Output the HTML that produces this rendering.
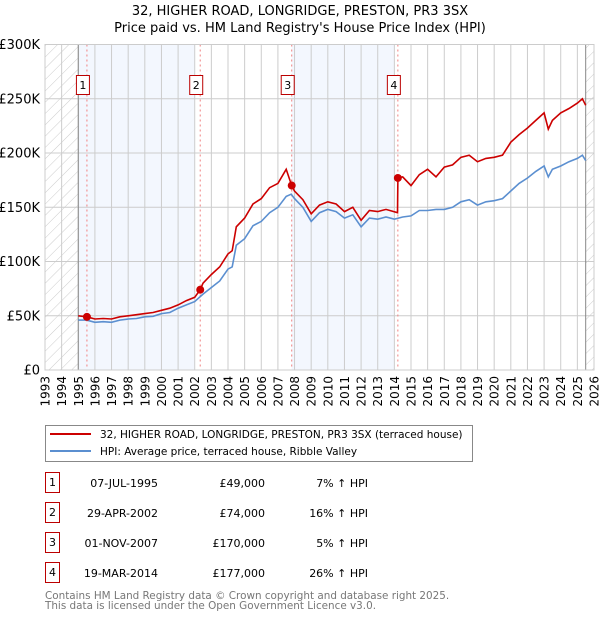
<!DOCTYPE html>
<html><head><meta charset="utf-8"><style>
body{margin:0;background:#fff;font-family:"DejaVu Sans","Liberation Sans",sans-serif;}
svg text{font-family:"DejaVu Sans","Liberation Sans",sans-serif;}
</style></head><body>
<svg id="c" width="600" height="620" xmlns="http://www.w3.org/2000/svg">
<defs><pattern id="h" width="8" height="8" patternUnits="userSpaceOnUse" patternTransform="rotate(45)"><line x1="0" y1="0" x2="0" y2="8" stroke="#ccc" stroke-width="1"/></pattern></defs>
<text x="300" y="15" text-anchor="middle" font-size="13">32, HIGHER ROAD, LONGRIDGE, PRESTON, PR3 3SX</text>
<text x="300" y="32" text-anchor="middle" font-size="13">Price paid vs. HM Land Registry's House Price Index (HPI)</text>
<g id="plot"></g>
<g>
<rect x="45.5" y="425.5" width="427" height="36" fill="#fff" stroke="#888"/>
<line x1="50" y1="434" x2="91" y2="434" stroke="#cc0000" stroke-width="2"/>
<text x="100" y="438" font-size="10.5">32, HIGHER ROAD, LONGRIDGE, PRESTON, PR3 3SX (terraced house)</text>
<line x1="50" y1="451" x2="91" y2="451" stroke="#5b8fd0" stroke-width="2"/>
<text x="100" y="455" font-size="10.5">HPI: Average price, terraced house, Ribble Valley</text>
</g>
<g id="table" font-size="11"></g>
<text x="45" y="599" font-size="10.4" fill="#777">Contains HM Land Registry data © Crown copyright and database right 2025.</text>
<text x="45" y="609" font-size="10.4" fill="#777">This data is licensed under the Open Government Licence v3.0.</text>
</svg>
<script>
const hpiYears=[1995,1995.5,1996,1996.5,1997,1997.5,1998,1998.5,1999,1999.5,2000,2000.5,2001,2001.5,2002,2002.5,2003,2003.5,2004,2004.25,2004.5,2005,2005.5,2006,2006.5,2007,2007.5,2007.8,2008,2008.5,2009,2009.5,2010,2010.5,2011,2011.5,2012,2012.5,2013,2013.5,2014,2014.5,2015,2015.5,2016,2016.5,2017,2017.5,2018,2018.5,2019,2019.5,2020,2020.5,2021,2021.5,2022,2022.5,2023,2023.25,2023.5,2024,2024.5,2025,2025.3,2025.5];
const hpiValues=[46,46,44,44.5,44,46,47,47.5,49,49.5,52,53,57,60,63,70,76,82,93,95,115,121,133,137,145,150,160,162,158,150,137,145,148,146,140,143,132,140,139,141,139,141,142,147,147,148,148,150,155,157,152,155,156,158,165,172,177,183,188,178,185,188,192,195,198,193];
const priceYears=[1995,1995.52,1996,1996.5,1997,1997.5,1998,1998.5,1999,1999.5,2000,2000.5,2001,2001.5,2002,2002.33,2002.5,2003,2003.5,2004,2004.25,2004.5,2005,2005.5,2006,2006.5,2007,2007.5,2007.83,2008,2008.5,2009,2009.5,2010,2010.5,2011,2011.5,2012,2012.5,2013,2013.5,2014.19,2014.21,2014.5,2015,2015.5,2016,2016.5,2017,2017.5,2018,2018.5,2019,2019.5,2020,2020.5,2021,2021.5,2022,2022.5,2023,2023.25,2023.5,2024,2024.5,2025,2025.3,2025.5];
const priceValues=[50,49,47,47.5,47,49,50,51,52,53,55,57,60,64,67,74,80,88,95,107,110,132,140,153,158,168,172,185,170,165,157,144,152,155,153,146,150,138,147,146,148,145,177,178,170,180,185,178,187,189,196,198,192,195,196,198,210,217,223,230,237,222,230,237,241,246,250,244];
const saleYears=[1995.52,2002.33,2007.83,2014.21];
const salePrices=[49,74,170,177];
const saleLabels=["1","2","3","4"];
const saleDates=["07-JUL-1995","29-APR-2002","01-NOV-2007","19-MAR-2014"];
const salePriceText=["£49,000","£74,000","£170,000","£177,000"];
const saleHpiText=["7% ↑ HPI","16% ↑ HPI","5% ↑ HPI","26% ↑ HPI"];
const yTicks=[0,50,100,150,200,250,300];
const yTickLabels=["£0","£50K","£100K","£150K","£200K","£250K","£300K"];
const xTicks=[1993,1994,1995,1996,1997,1998,1999,2000,2001,2002,2003,2004,2005,2006,2007,2008,2009,2010,2011,2012,2013,2014,2015,2016,2017,2018,2019,2020,2021,2022,2023,2024,2025,2026];

const X0=45,X1=594,Y0=370,Y1=44.5;
const xs=y=>X0+(y-1993)/(2026-1993)*(X1-X0);
const ys=v=>Y0-v/300*(Y0-Y1);
const NS="http://www.w3.org/2000/svg";
const plot=document.getElementById('plot');
function mk(tag,attrs,parent){const e=document.createElementNS(NS,tag);for(const k in attrs)e.setAttribute(k,attrs[k]);(parent||plot).appendChild(e);return e;}

let e;
e=mk('rect',{x:X0,y:Y1,width:X1-X0,height:Y0-Y1,fill:'#fff'});


[[1995,2002],[2007.83,2014]].forEach(s=>{
 e=mk('rect',{x:xs(s[0]),y:Y1,width:xs(s[1])-xs(s[0]),height:Y0-Y1,fill:'#eef3fd',opacity:0.7});
 
 
});
e=mk('rect',{x:X0,y:Y1,width:xs(1995)-X0,height:Y0-Y1,fill:'url(#h)'});


e=mk('rect',{x:xs(2025.5),y:Y1,width:X1-xs(2025.5),height:Y0-Y1,fill:'url(#h)'});


xTicks.forEach((t,i)=>{
 e=mk('line',{x1:xs(t),x2:xs(t),y1:Y1,y2:Y0,stroke:'#ccc'});
 
 
 e=mk('text',{x:0,y:0,transform:`translate(${xs(t)+4.5},${Y0+6}) rotate(-90)`,'text-anchor':'end','font-size':12});
 e.textContent=t;
 
 
});
yTicks.forEach((t,i)=>{
 e=mk('line',{x1:X0,x2:X1,y1:ys(t),y2:ys(t),stroke:'#ccc'});
 
 
 e=mk('text',{x:40,y:ys(t)+4.5,'text-anchor':'end','font-size':13});
 e.textContent=yTickLabels[i];
 
 
});
e=mk('line',{x1:xs(1995),x2:xs(1995),y1:Y1,y2:Y0,stroke:'#888'});


e=mk('line',{x1:xs(2025.5),x2:xs(2025.5),y1:Y1,y2:Y0,stroke:'#888'});


saleYears.forEach((s,i)=>{
 e=mk('line',{x1:xs(s),x2:xs(s),y1:Y1,y2:Y0,stroke:'#f08080','stroke-dasharray':'2,3'});
 
 
});
e=mk('path',{d:hpiYears.map((y,i)=>(i?'L':'M')+xs(y).toFixed(1)+','+ys(hpiValues[i]).toFixed(1)).join(''),fill:'none',stroke:'#5b8fd0','stroke-width':1.6});


e=mk('path',{d:priceYears.map((y,i)=>(i?'L':'M')+xs(y).toFixed(1)+','+ys(priceValues[i]).toFixed(1)).join(''),fill:'none',stroke:'#cc0000','stroke-width':1.6});


saleYears.forEach((s,i)=>{
 e=mk('circle',{cx:xs(s),cy:ys(salePrices[i]),r:4,fill:'#cc0000'});
 
 
 e=mk('rect',{x:xs(s)-10.5,y:75.5,width:13,height:19,fill:'#fff',stroke:'#b00'});
 
 
 e=mk('text',{x:xs(s)-4,y:89,'text-anchor':'middle','font-size':11});
 e.textContent=saleLabels[i];
 
 
});
e=mk('rect',{x:X0,y:Y1,width:X1-X0,height:Y0-Y1,fill:'none',stroke:'#ccc'});



const tbl=document.getElementById('table');
saleLabels.forEach((l,i)=>{
 const cy=483+i*30;
 e=mk('rect',{x:45.5,y:cy-10.5,width:14,height:20,fill:'#fff',stroke:'#b00'},tbl);
 
 
 e=mk('text',{x:52.5,y:cy+3,'text-anchor':'middle'},tbl);e.textContent=l;
 
 
 e=mk('text',{x:158,y:cy+4,'text-anchor':'end'},tbl);e.textContent=saleDates[i];
 
 
 e=mk('text',{x:265,y:cy+4,'text-anchor':'end'},tbl);e.textContent=salePriceText[i];
 
 
 e=mk('text',{x:368,y:cy+4,'text-anchor':'end'},tbl);e.textContent=saleHpiText[i];
 
 
});
</script>
</body></html>
